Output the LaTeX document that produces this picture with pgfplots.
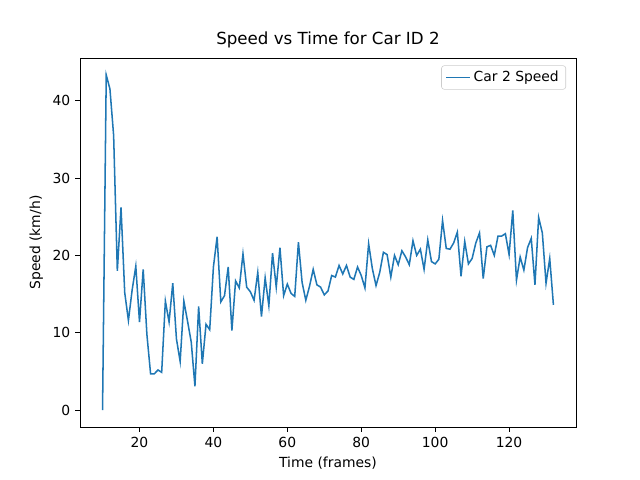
\documentclass[border=0pt]{standalone}
\usepackage{pgfplots}
\pgfplotsset{compat=1.18}
\usepackage{fontspec}
\setmainfont{DejaVu Sans}
\usetikzlibrary{calc}
\definecolor{c1}{HTML}{1F77B4}
\begin{document}
\begin{tikzpicture}
\begin{axis}[
  scale only axis, width=357.1pt, height=265.7pt,
  xmin=3.9, xmax=138.1, ymin=-2.165, ymax=45.5,
  xtick={20,40,60,80,100,120}, ytick={0,10,20,30,40},
  tick align=outside, tick style={black, line width=0.6pt}, major tick length=3.5pt,
  xtick pos=bottom, ytick pos=left,
  /pgf/number format/assume math mode=true,
  ticklabel style={font=\fontsize{10}{12}\selectfont},
  label style={font=\fontsize{10}{12}\selectfont},
  xlabel={Time (frames)}, ylabel={Speed (km/h)},
  title={Speed vs Time for Car ID 2}, title style={font=\fontsize{12}{14}\selectfont, yshift=-2pt},
  legend style={at={(0.98,0.98)}, anchor=north east, font=\fontsize{10}{12}\selectfont, draw=black!20, rounded corners=2pt},
  legend cell align=left,
  axis line style={line width=0.6pt},
]
\coordinate (o) at (rel axis cs:0,0);
\addplot[c1, line width=1.1pt, mark=none] coordinates {
(10,0)(11,43.3)(12,41.5)(13,35.5)(14,18)(15,26.2)(16,15.2)(17,11.6)(18,15.5)(19,18.6)(20,11.4)(21,18.2)(22,9.8)(23,4.7)(24,4.7)(25,5.2)(26,4.9)(27,14.1)(28,11.4)(29,16.4)(30,9.2)(31,6.3)(32,14.1)(33,11.5)(34,8.8)(35,3.1)(36,13.4)(37,6.0)(38,11.1)(39,10.4)(40,18.5)(41,22.4)(42,14.0)(43,14.8)(44,18.5)(45,10.3)(46,16.7)(47,15.8)(48,20.2)(49,15.9)(50,15.3)(51,14.2)(52,17.8)(53,12.1)(54,17.1)(55,13.5)(56,20.3)(57,15.9)(58,21.0)(59,14.8)(60,16.3)(61,15.1)(62,14.7)(63,21.7)(64,16.5)(65,14.2)(66,16.0)(67,18.2)(68,16.2)(69,15.9)(70,14.9)(71,15.4)(72,17.4)(73,17.2)(74,18.7)(75,17.6)(76,18.7)(77,17.2)(78,16.9)(79,18.5)(80,17.4)(81,15.8)(82,21.5)(83,18.3)(84,16.1)(85,17.8)(86,20.4)(87,20.1)(88,17.2)(89,20.0)(90,18.8)(91,20.6)(92,19.8)(93,18.8)(94,21.9)(95,20.0)(96,20.8)(97,18.2)(98,22.0)(99,19.2)(100,18.9)(101,19.5)(102,24.5)(103,20.9)(104,20.8)(105,21.6)(106,23.0)(107,17.3)(108,21.8)(109,18.9)(110,19.6)(111,21.6)(112,22.9)(113,17.0)(114,21.1)(115,21.3)(116,20.0)(117,22.5)(118,22.5)(119,22.8)(120,20.1)(121,25.8)(122,16.8)(123,19.8)(124,18.1)(125,21.0)(126,22.2)(127,16.2)(128,24.9)(129,22.9)(130,16.4)(131,19.6)(132,13.6)
};
\addlegendentry{Car 2 Speed}
\end{axis}
\path[use as bounding box] ($(o)+(-57.6pt,-38.16pt)$) rectangle ++(460.8pt,345.6pt);
\end{tikzpicture}
\end{document}
